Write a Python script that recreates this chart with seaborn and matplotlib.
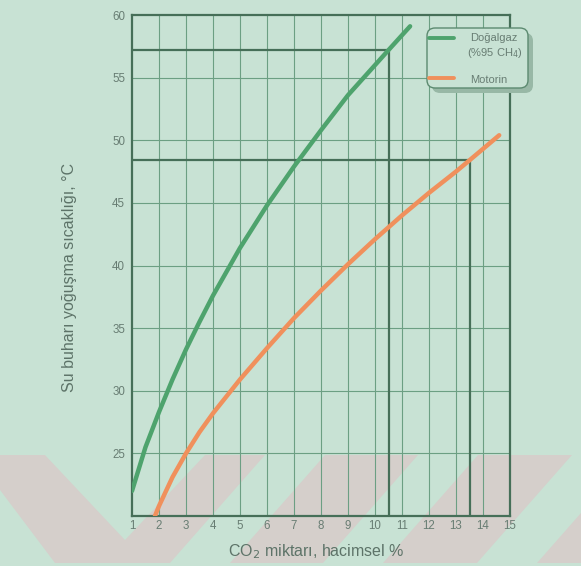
import matplotlib
matplotlib.use("Agg")
import matplotlib.pyplot as plt
import seaborn as sns
import pandas as pd
from matplotlib.patches import Polygon, FancyBboxPatch
from matplotlib.lines import Line2D

# values
dogalgaz_co2 = [1.0, 1.5, 2.0, 2.5, 3.0, 3.5, 4.0, 5.0, 6.0, 7.0, 8.0, 9.0, 10.0, 10.5, 11.3]
dogalgaz_temp = [22.0, 25.5, 28.3, 30.9, 33.3, 35.5, 37.6, 41.4, 44.8, 47.9, 50.8, 53.6, 56.0, 57.2, 59.1]
motorin_co2 = [1.85, 2.0, 2.5, 3.0, 3.5, 4.0, 5.0, 6.0, 7.0, 8.0, 9.0, 10.0, 11.0, 12.0, 13.0, 13.5, 14.6]
motorin_temp = [20.0, 20.8, 23.1, 25.0, 26.7, 28.2, 30.9, 33.4, 35.8, 38.0, 40.1, 42.1, 44.0, 45.8, 47.5, 48.4, 50.4]
x_ticks = list(range(1, 16))
y_ticks = [25, 30, 35, 40, 45, 50, 55, 60]
# read-off guides: (co2, temp)
guides = [(10.5, 57.2), (13.5, 48.4)]
labels = ["Doğalgaz", "Motorin"]

bg = "#c8e2d4"
grid_c = "#6c9f83"
dark = "#466f58"
text_c = "#687d73"
green = "#4ea36d"
orange = "#f0905c"
W, H = 581, 566

sns.set_theme(style="white")
plt.rcParams["font.family"] = ["Liberation Sans", "DejaVu Sans"]

df = pd.concat([
    pd.DataFrame({"co2": dogalgaz_co2, "temp": dogalgaz_temp, "yakit": labels[0]}),
    pd.DataFrame({"co2": motorin_co2, "temp": motorin_temp, "yakit": labels[1]}),
])

fig = plt.figure(figsize=(W / 100, H / 100), dpi=100, facecolor=bg)
ax = fig.add_axes([132 / W, 1 - 516 / H, 378 / W, 501 / H])
ax.set_facecolor("none")


def px(pts):
    return [(x / W, 1 - y / H) for x, y in pts]


# faint watermark band at the bottom of the page
fig.patches.append(Polygon(px([(0, 455), (W, 455), (W, 563), (0, 563)]), closed=True,
                           transform=fig.transFigure, fc="#d5cfcb", ec="none", zorder=-2))
for poly in [[(45, 455), (205, 455), (125, 540)],
             [(0, 490), (0, 563), (55, 563)],
             [(265, 455), (325, 455), (230, 563), (170, 563)],
             [(418, 455), (478, 455), (383, 563), (323, 563)],
             [(572, 455), (632, 455), (537, 563), (477, 563)]]:
    fig.patches.append(Polygon(px(poly), closed=True, transform=fig.transFigure,
                               fc=bg, ec="none", zorder=-1))

# grid
for x in x_ticks[1:-1]:
    ax.axvline(x, color=grid_c, lw=0.8, zorder=1)
for y in y_ticks[:-1]:
    ax.axhline(y, color=grid_c, lw=0.8, zorder=1)

# guide lines
for gx, gy in guides:
    ax.plot([1, gx, gx], [gy, gy, 20], color=dark, lw=1.6, zorder=2)

sns.lineplot(data=df, x="co2", y="temp", hue="yakit", palette=[green, orange],
             sort=False, estimator=None, lw=3.2, ax=ax, zorder=3, legend=False)

ax.set_xlim(1, 15)
ax.set_ylim(20, 60)
ax.set_xticks(x_ticks)
ax.set_yticks(y_ticks)
ax.tick_params(length=0, labelsize=8.3, labelcolor=text_c)
ax.tick_params(axis="y", pad=5)
ax.tick_params(axis="x", pad=3)
for s in ax.spines.values():
    s.set_color(dark)
    s.set_linewidth(1.6)
    s.set_visible(True)

ax.set_xlabel("CO$_2$ miktarı, hacimsel %", fontsize=11.5, color="#5d7368")
ax.set_ylabel("Su buharı yoğuşma sıcaklığı, °C", fontsize=11.5, color="#5d7368")
ax.xaxis.set_label_coords(0.487, -0.052)
ax.yaxis.set_label_coords(-0.145, 0.477)

# legend box, drawn by hand (rounded, with shadow)
(x0, y0), (x1, y1) = px([(427, 88), (528, 28)])
sx, sy = 5 / W, 5 / H
ax.add_patch(FancyBboxPatch((x0 + sx, y0 - sy), x1 - x0, y1 - y0,
                            boxstyle="round,pad=0,rounding_size=0.014",
                            transform=fig.transFigure, clip_on=False,
                            fc="#98b8a6", ec="none", zorder=9))
ax.add_patch(FancyBboxPatch((x0, y0), x1 - x0, y1 - y0,
                            boxstyle="round,pad=0,rounding_size=0.014",
                            transform=fig.transFigure, clip_on=False,
                            fc=bg, ec="#5c8a70", lw=1.0, zorder=10))
for (la, lb), c in zip([px([(429, 38), (454, 38)]), px([(429, 78), (454, 78)])], [green, orange]):
    ax.add_line(Line2D([la[0], lb[0]], [la[1], lb[1]], transform=fig.transFigure,
                       color=c, lw=2.8, clip_on=False, zorder=11))
for (tx, ty), s in zip(px([(494, 38), (495, 53), (489, 80)]),
                       [labels[0], "(%95 CH$_4$)", labels[1]]):
    ax.text(tx, ty, s, transform=fig.transFigure, ha="center", va="center",
            fontsize=8, color=text_c, zorder=12)

fig.savefig("out.png", dpi=100, facecolor=bg)
